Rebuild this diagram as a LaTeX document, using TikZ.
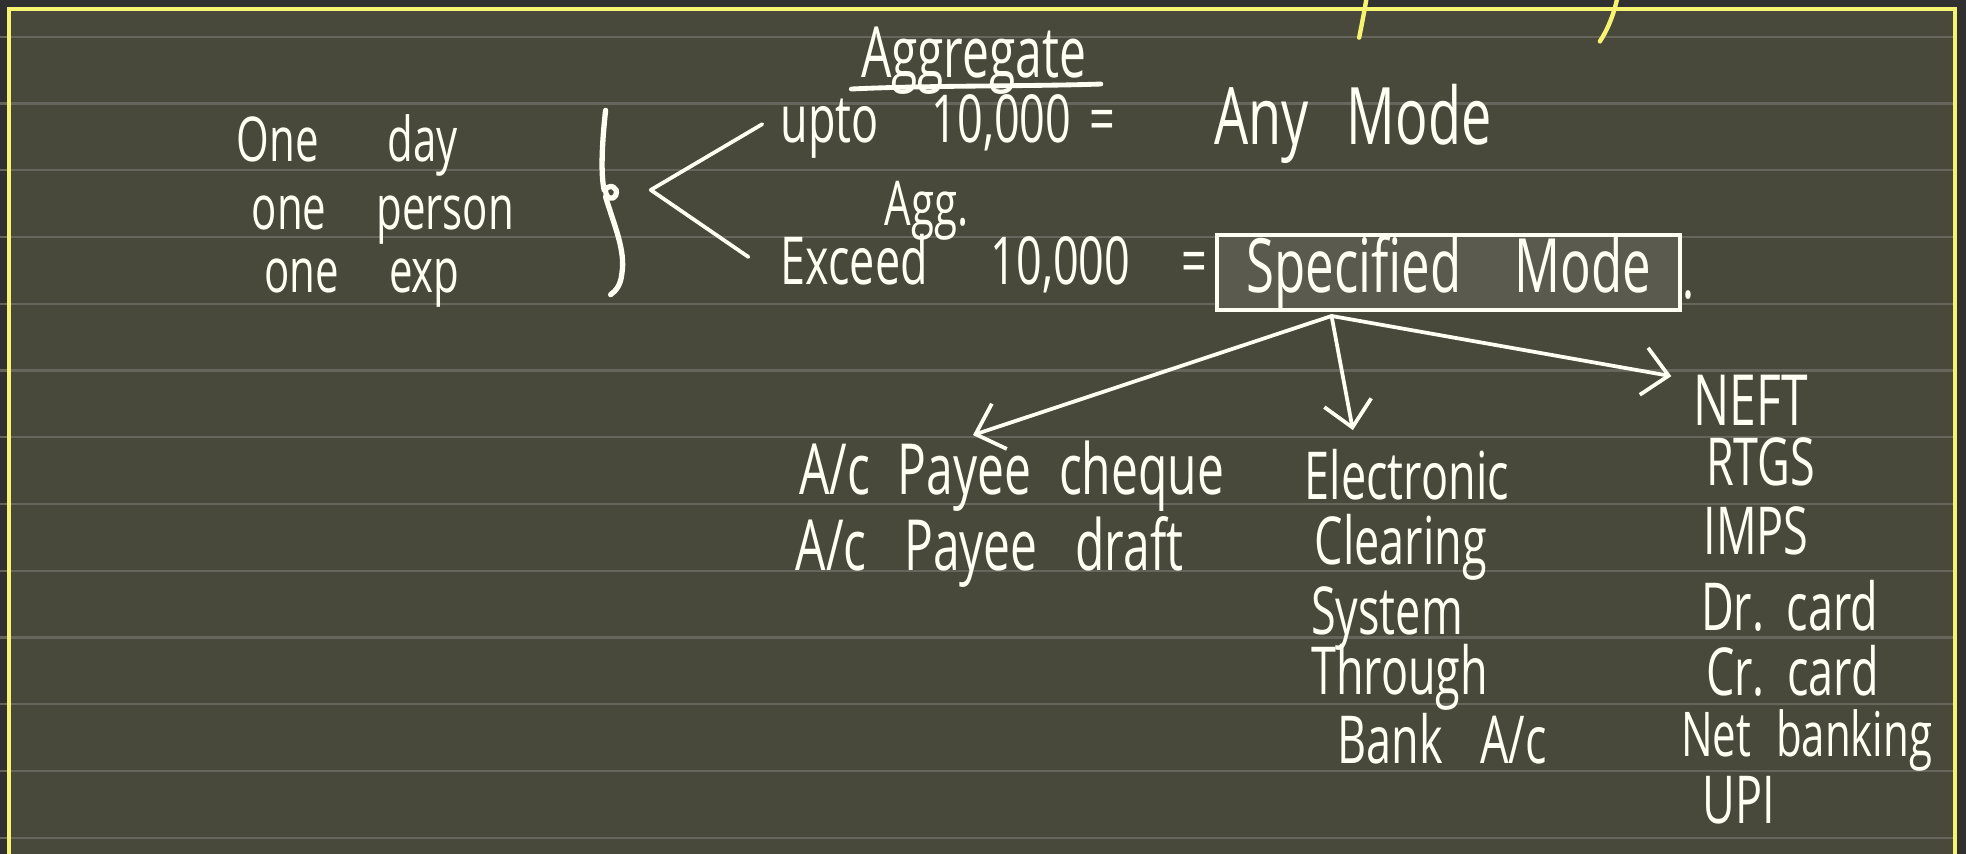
\documentclass[tikz,border=0pt]{standalone}
\usepackage{fontspec}
\setmainfont[FakeStretch=0.68]{Open Sans}
\usetikzlibrary{arrows.meta}

\definecolor{board}{HTML}{48483B}
\definecolor{outside}{HTML}{303030}
\definecolor{ruling}{HTML}{66665C}
\definecolor{marker}{HTML}{F6F272}
\definecolor{chalk}{HTML}{FFFFF4}
\definecolor{boxfill}{HTML}{5A5A4E}

\begin{document}
\begin{tikzpicture}[x=0.01cm, y=-0.01cm,
  hw/.style={text=chalk, inner sep=0pt, anchor=base west, font=\fontsize{15}{18}\selectfont},
  sz/.style={font=\fontsize{#1}{#1}\selectfont},
  sp/.style={execute at begin node={\spaceskip=#1\relax}},
  pen/.style={draw=chalk, line width=0.85pt, line cap=round, line join=round},
  arr/.style={pen, -{Straight Barb[length=2mm, width=3.8mm, line width=0.85pt]}},
  hl/.style={draw=marker, line width=1pt, line cap=round},
]
\useasboundingbox (0,0) rectangle (1568,681);
\clip (0,0) rectangle (1568,681);

% page and ruling
\fill[outside] (0,0) rectangle (1568,681);
\fill[board] (7,7) rectangle (1559,700);
\foreach \k in {0,...,12} {
  \draw[ruling, line width=0.5pt] (0,{29.3+53.24*\k}) -- (1559,{29.3+53.24*\k});
}
\draw[marker, line width=1pt] (7,7) rectangle (1559,720);
\draw[hl] (1090,-2) .. controls (1088,10) and (1086,20) .. (1084,30);
\draw[hl] (1290,-2) .. controls (1287,12) and (1282,24) .. (1276,33);

% conditions
\node[hw, sz=14, sp=0.55cm] (c1) at (188,129) {One day};
\node[hw, sz=14, sp=0.4cm]  (c2) at (200,183) {one person};
\node[hw, sz=14, sp=0.4cm]  (c3) at (210,233) {one exp};

% brace
\draw[pen, line width=1.2pt] (483,88) .. controls (480,115) and (479,140) .. (482,152)
  .. controls (486,146) and (494,149) .. (491,156) .. controls (489,160) and (483,158) .. (483,153);
\draw[pen, line width=1.2pt] (483,157) .. controls (490,180) and (499,200) .. (496,218)
  .. controls (495,228) and (491,232) .. (487,235);

% split into two cases
\coordinate (fork) at (519,151.5);
\coordinate (up)   at (608,99);
\coordinate (down) at (597,205);
\draw[pen] (up) -- (fork) -- (down);

\node[hw, sz=16] (agg) at (686,62) {Aggregate};
\draw[pen, line width=1.1pt] (679,71) .. controls (740,68) and (820,69) .. (878,67);

\node[hw, sz=15, sp=0.42cm] (upto) at (622,114) {upto 10,000};
\node[hw, sz=15] (eq1) at (868,114) {=};
\node[hw, sz=18, sp=0.3cm]  (any)  at (968,115) {Any Mode};

\node[hw, sz=14] (agg2) at (705,180) {Agg.};
\node[hw, sz=15, sp=0.5cm] (exceed) at (622,227) {Exceed 10,000};
\node[hw, sz=15] (eq2) at (942,227) {=};

\node[hw, sz=17, sp=0.42cm, anchor=center, draw=chalk, line width=0.9pt, fill=boxfill,
      minimum width=3.69cm, minimum height=0.59cm] (spec) at (1155.5,217.5) {Specified Mode};
\node[hw, sz=15] (stop) at (1341,238) {.};

% three routes
\coordinate (src) at (1062,252);
\coordinate (t1)  at (776,347);
\coordinate (t2)  at (1079,343);
\coordinate (t3)  at (1333,300);
\draw[arr] (src) -- (t1);
\draw[arr] (src) -- (t2);
\draw[arr] (src) -- (t3);

% route 1
\node[hw, sz=16, sp=0.22cm] (l1) at (637,394) {A/c Payee cheque};
\node[hw, sz=16, sp=0.3cm]  (l2) at (634,455) {A/c Payee draft};

% route 2
\node[hw] (m1) at (1040,398) {Electronic};
\node[hw] (m2) at (1048,450) {Clearing};
\node[hw] (m3) at (1045,506) {System};
\node[hw] (m4) at (1045,554) {Through};
\node[hw, sp=0.3cm] (m5) at (1066,609) {Bank A/c};

% route 3
\node[hw, sz=16] (r1) at (1350,339) {NEFT};
\node[hw] (r2) at (1360,387) {RTGS};
\node[hw] (r3) at (1358,442) {IMPS};
\node[hw, sp=0.15cm] (r4) at (1356,503) {Dr. card};
\node[hw, sp=0.15cm] (r5) at (1360,555) {Cr. card};
\node[hw, sz=14, sp=0.2cm] (r6) at (1340,603) {Net banking};
\node[hw] (r7) at (1357,657) {UPI};
\end{tikzpicture}
\end{document}
